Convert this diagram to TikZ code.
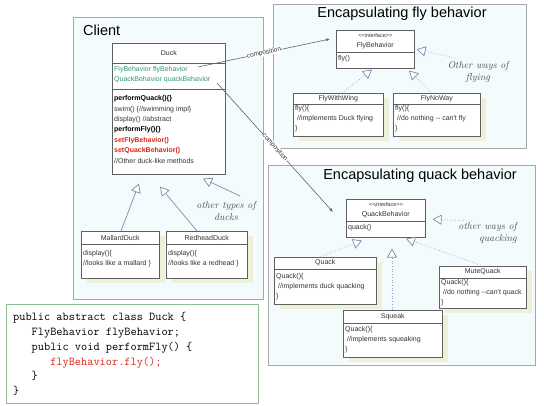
\documentclass[tikz,border=0pt]{standalone}
\usepackage{fontspec}
\newfontfamily\arial{Liberation Sans}
\usetikzlibrary{arrows.meta,calc}
\definecolor{pkgfill}{HTML}{F4FBFD}
\definecolor{pkgline}{HTML}{A8A8A8}
\definecolor{clsline}{HTML}{606060}
\definecolor{txt}{HTML}{333333}
\definecolor{shadowc}{HTML}{EEF1DA}
\definecolor{fieldg}{HTML}{2F9A6F}
\definecolor{redm}{HTML}{E2231A}
\definecolor{inhc}{HTML}{7F8AAA}
\definecolor{dotc}{HTML}{8EA4CC}
\definecolor{compc}{HTML}{5A6478}
\definecolor{codeg}{HTML}{8FC08F}
\definecolor{handc}{HTML}{505050}
% name, x, y, w, h, header height, title, body, body offset
\newcommand\umlclass[9]{%
  \node[cls, minimum width=#4pt, minimum height=#5pt, anchor=north west] (#1) at (#2,#3) {};
  \draw[clsl] ($(#1.north west)+(0,-#6pt)$) -- ($(#1.north east)+(0,-#6pt)$);
  \node[clstitle] (#1t) at ($(#1.north)+(0,-#6pt/2)$) {#7};
  \node[clsbody, anchor=north west] (#1b) at ($(#1.north west)+(2pt,-#6pt-#9pt)$) {#8};
}
\newcommand\umlshadow[4]{\fill[shadowc] (#1+6,#2+5) rectangle ++(#3,#4);}
\begin{document}
\begin{tikzpicture}[x=1pt,y=-1pt,
  pkg/.style={draw=pkgline, fill=pkgfill, line width=0.8pt},
  cls/.style={draw=clsline, fill=white, line width=0.6pt, inner sep=0pt},
  clsl/.style={draw=clsline, line width=0.6pt},
  clstitle/.style={font=\arial\fontsize{7}{9}\selectfont, text=txt, inner sep=0pt, align=center},
  clsbody/.style={font=\arial\fontsize{7}{10}\selectfont, text=txt, inner sep=0pt, align=left},
  pkgtitle/.style={font=\arial\fontsize{14.5}{16}\selectfont, text=black, inner sep=0pt},
  inh/.style={draw=inhc, line width=0.7pt, -{Triangle[open, length=9pt, width=10pt, fill=white]}},
  inhdot/.style={draw=dotc, line width=0.7pt, dotted, -{Triangle[open, length=9pt, width=10pt, fill=white, color=inhc]}},
  comp/.style={draw=compc, line width=0.6pt, -{Latex[length=4pt, width=3pt]}},
  complabel/.style={font=\arial\fontsize{6.5}{7}\selectfont, text=txt, fill=white, inner sep=0.3pt, sloped, midway},
  hand/.style={font=\itshape\fontsize{10}{12.5}\selectfont, text=handc, inner sep=0pt},
  codeline/.style={font=\ttfamily\fontsize{12}{14}\selectfont, text=black, inner sep=0pt, anchor=base west}
]
\useasboundingbox (0,0) rectangle (544,406);
\fill[white] (0,0) rectangle (544,406);

% packages
\draw[pkg] (73,17) rectangle (263,299);
\draw[pkg] (273,4) rectangle (526,148);
\draw[pkg] (268,165) rectangle (535,365);
\node[pkgtitle, anchor=west] (clienttitle) at (83,30) {Client};
\node[pkgtitle] (flytitle) at (402,14) {Encapsulating fly behavior};
\node[pkgtitle] (quacktitle) at (420,176) {Encapsulating quack behavior};

% Duck
\node[cls, minimum width=113pt, minimum height=131pt, anchor=north west] (duck) at (112,43) {};
\draw[clsl] ($(duck.north west)+(0,-20pt)$) -- ($(duck.north east)+(0,-20pt)$);
\draw[clsl] ($(duck.north west)+(0,-46pt)$) -- ($(duck.north east)+(0,-46pt)$);
\node[clstitle] (ducktitle) at ($(duck.north)+(0,-10pt)$) {Duck};
\node[clsbody, anchor=north west, text=fieldg] (duckfields) at ($(duck.north west)+(2pt,-23.5pt)$)
  {FlyBehavior flyBehavior\\QuackBehavior quackBehavior};
\node[clsbody, anchor=north west, font=\arial\fontsize{7}{10.4}\selectfont] (duckmethods) at ($(duck.north west)+(2pt,-52.5pt)$)
  {\textcolor{black}{\bfseries performQuack()\{\}}\\
   swim() \{//swimming impl\}\\
   display() //abstract\\
   \textcolor{black}{\bfseries performFly()\{\}}\\
   \textcolor{redm}{\bfseries setFlyBehavior()}\\
   \textcolor{redm}{\bfseries setQuackBehavior()}\\
   //Other duck-like methods};

% Mallard, Redhead
\umlshadow{81}{231}{78}{47}
\umlshadow{166}{231}{81}{47}
\umlclass{mallard}{81}{231}{78}{47}{13}{MallardDuck}{display()\{\\//looks like a mallard \}}{6.5}
\umlclass{redhead}{166}{231}{81}{47}{13}{RedheadDuck}{display()\{\\//looks like a redhead \}}{6.5}

\coordinate (dt1) at ($(duck.south west)+(27pt,-9pt)$);
\coordinate (dt2) at ($(duck.south west)+(48pt,-12pt)$);
\coordinate (dt3) at ($(duck.south west)+(91pt,-4pt)$);
\coordinate (dn1) at (240,196);
\draw[inh] ($(mallard.north west)+(40pt,0)$) -- (dt1);
\draw[inh] ($(redhead.north west)+(31pt,0)$) -- (dt2);
\draw[inh] (dn1) -- (dt3);
\node[hand, align=center] (ducknote) at (226,211) {other types of\\ducks};

% Fly behavior
\umlclass{flyb}{336}{30}{78}{38}{22}{{\fontsize{5.5}{6}\selectfont <<interface>>}\\[1pt]FlyBehavior}{fly()}{3}
\umlshadow{293}{93}{90}{43}
\umlshadow{393}{93}{87}{43}
\umlclass{fww}{293}{93}{90}{43}{11}{FlyWithWing}{fly()\{\\\hspace*{2pt}//implements Duck flying\\\}}{1.5}
\umlclass{fnw}{393}{93}{87}{43}{11}{FlyNoWay}{fly()\{\\\hspace*{2pt}//do nothing -{}- can't fly\\\}}{1.5}
\coordinate (ft1) at ($(flyb.south west)+(36pt,-1pt)$);
\coordinate (ft2) at ($(flyb.south west)+(73pt,-2pt)$);
\coordinate (ft3) at ($(flyb.east)+(2pt,0)$);
\coordinate (fn1) at (455,58);
\draw[inhdot] ($(fww.north west)+(49pt,0)$) -- (ft1);
\draw[inhdot] ($(fnw.north west)+(39pt,0)$) -- (ft2);
\draw[inhdot] (fn1) -- (ft3);
\node[hand, align=center] (flynote) at (478,72) {Other ways of\\flying};

% Quack behavior
\umlclass{qb}{346}{199}{79}{38}{22}{{\fontsize{5.5}{6}\selectfont\itshape <<interface>>}\\[1pt]QuackBehavior}{quack()}{3}
\umlshadow{274}{257}{102}{47}
\umlshadow{439}{266}{87}{42}
\umlshadow{343}{310}{99}{47}
\umlclass{quack}{274}{257}{102}{47}{12}{Quack}{Quack()\{\\\hspace*{2pt}//implements duck quacking\\\}}{4}
\umlclass{mute}{439}{266}{87}{42}{12}{MuteQuack}{Quack()\{\\\hspace*{2pt}//do nothing -{}-can't quack\\\}}{1}
\umlclass{squeak}{343}{310}{99}{47}{13}{Squeak}{Quack()\{\\\hspace*{2pt}//implements squeaking\\\}}{3.5}
\coordinate (qt1) at ($(qb.south west)+(16pt,-3pt)$);
\coordinate (qt2) at ($(qb.south west)+(46pt,-11pt)$);
\coordinate (qt3) at ($(qb.south west)+(60pt,-1pt)$);
\coordinate (qt4) at ($(qb.east)+(7pt,-1pt)$);
\coordinate (qn1) at (472,221);
\draw[inhdot] ($(quack.north west)+(46pt,0)$) -- (qt1);
\draw[inhdot] ($(squeak.north west)+(49pt,0)$) -- (qt2);
\draw[inhdot] ($(mute.north west)+(44pt,0)$) -- (qt3);
\draw[inhdot] (qn1) -- (qt4);
\node[hand, align=right, anchor=north east] (quacknote) at (517,222) {other ways of\\quacking};

% composition
\coordinate (cs1) at ($(duck.north west)+(86pt,-24pt)$);
\coordinate (cs2) at ($(duck.north west)+(105pt,-40pt)$);
\coordinate (ce1) at ($(flyb.north west)+(-6pt,-9pt)$);
\coordinate (ce2) at ($(qb.north west)+(-13pt,-13pt)$);
\draw[comp] (cs1) -- node[complabel] (cl1) {composition} (ce1);
\draw[comp] (cs2) -- node[complabel] (cl2) {composition} (ce2);

% code
\node[draw=codeg, line width=0.9pt, fill=white, minimum width=252pt, minimum height=99pt, anchor=north west, inner sep=0pt] (code) at (6,304) {};
\node[codeline] (c1) at (13,321) {public abstract class Duck \{};
\node[codeline] (c2) at (13,335.7) {\phantom{xxx}FlyBehavior flyBehavior;};
\node[codeline] (c3) at (13,350.4) {\phantom{xxx}public void performFly() \{};
\node[codeline] (c4) at (13,365.1) {\phantom{xxxxxx}\textcolor{redm}{flyBehavior.fly();}};
\node[codeline] (c5) at (13,379.8) {\phantom{xxx}\}};
\node[codeline] (c6) at (13,394.5) {\}};
\end{tikzpicture}
\end{document}
